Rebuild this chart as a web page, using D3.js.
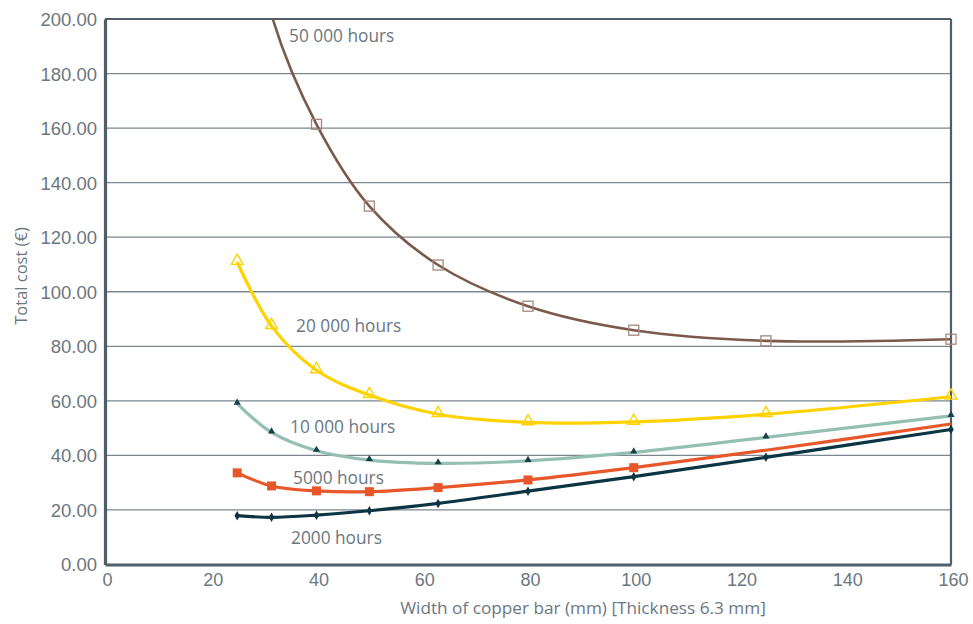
<!DOCTYPE html>
<html>
<head>
<meta charset="utf-8">
<script src="https://cdn.jsdelivr.net/npm/d3@7"></script>
<style>
  html, body { margin: 0; padding: 0; background: #fff; }
  svg { display: block; font-family: "Open Sans", "Noto Sans", sans-serif; }
</style>
</head>
<body>
<svg id="chart" width="973" height="624"></svg>
<script>
// ---- data ----
const widths = [25, 31.5, 40, 50, 63, 80, 100, 125, 160];
const hours50000 = [269, 201.5, 161.4, 131.4, 109.8, 94.7, 85.9, 82.0, 82.6];
const hours20000 = [110.9, 87.4, 71.2, 62.1, 55.1, 52.1, 52.3, 55.1, 61.5];
const hours10000 = [59.0, 48.4, 41.7, 38.3, 37.1, 38.0, 41.1, 46.6, 54.5];
const hours5000  = [33.6, 28.8, 27.0, 26.7, 28.2, 31.0, 35.5, 41.9, 51.5];
const hours2000  = [17.9, 17.3, 18.1, 19.7, 22.4, 26.9, 32.2, 39.3, 49.5];
const seriesNames = ["50 000 hours", "20 000 hours", "10 000 hours", "5000 hours", "2000 hours"];
const xTicks = [0, 20, 40, 60, 80, 100, 120, 140, 160];
const yTicks = [0, 20, 40, 60, 80, 100, 120, 140, 160, 180, 200];
const xTitle = "Width of copper bar (mm) [Thickness 6.3 mm]";
const yTitle = "Total cost (€)";

// ---- layout ----
const L = 105, R = 951, T = 19, B = 564.5;
const svg = d3.select("#chart");
const x = d3.scaleLinear().domain([0, 160]).range([L, R]);
const y = d3.scaleLinear().domain([0, 200]).range([B, T]);
const textColor = "#6b777f";

svg.append("defs").append("clipPath").attr("id", "plotclip")
  .append("rect").attr("x", L - 10).attr("y", T).attr("width", R - L + 20).attr("height", B - T + 10);

// gridlines
svg.append("g").selectAll("line").data(yTicks.filter(v => v > 0 && v < 200)).join("line")
  .attr("x1", L).attr("x2", R).attr("y1", d => y(d)).attr("y2", d => y(d))
  .attr("stroke", "#7a878f").attr("stroke-width", 1.3);

// frame
svg.append("line").attr("x1", L).attr("x2", R).attr("y1", T).attr("y2", T)
  .attr("stroke", "#4f5e68").attr("stroke-width", 2.2);
svg.append("line").attr("x1", R).attr("x2", R).attr("y1", T).attr("y2", B)
  .attr("stroke", "#4f5e68").attr("stroke-width", 2.2);

// axes
const yAxis = d3.axisLeft(y).tickValues(yTicks).tickFormat(d3.format(".2f")).tickSize(0).tickPadding(8);
const gy = svg.append("g").attr("transform", `translate(${L},0)`).call(yAxis);
gy.select(".domain").attr("stroke", "#4f5e68").attr("stroke-width", 3.2);
gy.selectAll("text").attr("fill", textColor).attr("font-size", 18.5).attr("dy", "0.35em");

const xAxis = d3.axisBottom(x).tickValues(xTicks).tickFormat(d3.format("d")).tickSize(0).tickPadding(9);
const gx = svg.append("g").attr("transform", `translate(0,${B})`).call(xAxis);
gx.select(".domain").attr("stroke", "#4f5e68").attr("stroke-width", 3.2);
gx.selectAll("text").attr("fill", textColor).attr("font-size", 18).attr("dx", 2);

svg.append("text").attr("x", 583).attr("y", 614).attr("text-anchor", "middle")
  .attr("fill", textColor).attr("font-size", 17.2).text(xTitle);
svg.append("text").attr("transform", `translate(27,${276}) rotate(-90)`).attr("text-anchor", "middle")
  .attr("fill", textColor).attr("font-size", 16.5).text(yTitle);

// series
const line = d3.line().x(d => x(d[0])).y(d => y(d[1])).curve(d3.curveCatmullRom.alpha(0.5));
const plot = svg.append("g").attr("clip-path", "url(#plotclip)");
const pts = vals => widths.map((w, i) => [w, vals[i]]);

const defs = [
  { vals: hours50000, color: "#7b5a4b", width: 2.6 },
  { vals: hours20000, color: "#ffd200", width: 3.2 },
  { vals: hours10000, color: "#94bfb2", width: 3.2 },
  { vals: hours5000,  color: "#e8572a", width: 3.2 },
  { vals: hours2000,  color: "#0c3543", width: 3.2 }
];
defs.forEach(s => {
  plot.append("path").attr("d", line(pts(s.vals))).attr("fill", "none")
    .attr("stroke", s.color).attr("stroke-width", s.width);
});

// markers
const inView = d => d[1] <= 200;
// 50 000: open squares
plot.append("g").selectAll("rect").data(pts(hours50000).filter(inView)).join("rect")
  .attr("x", d => x(d[0]) - 5).attr("y", d => y(d[1]) - 5).attr("width", 10).attr("height", 10)
  .attr("fill", "none").attr("stroke", "#a5877d").attr("stroke-width", 1.3);
// 20 000: open triangles
const tri = d3.symbol().type(d3.symbolTriangle);
plot.append("g").selectAll("path").data(pts(hours20000)).join("path")
  .attr("transform", d => `translate(${x(d[0])},${y(d[1]) - 1})`).attr("d", tri.size(60)())
  .attr("fill", "none").attr("stroke", "#ffd200").attr("stroke-width", 1.4);
// 10 000: small filled triangles
plot.append("g").selectAll("path").data(pts(hours10000)).join("path")
  .attr("transform", d => `translate(${x(d[0])},${y(d[1]) - 1})`).attr("d", tri.size(22)())
  .attr("fill", "#17404d");
// 5000: filled squares (not shown at the last two widths)
plot.append("g").selectAll("rect").data(pts(hours5000).slice(0, 7)).join("rect")
  .attr("x", d => x(d[0]) - 4.5).attr("y", d => y(d[1]) - 4.5).attr("width", 9).attr("height", 9)
  .attr("fill", "#e8572a");
// 2000: small diamonds
plot.append("g").selectAll("path").data(pts(hours2000)).join("path")
  .attr("transform", d => `translate(${x(d[0])},${y(d[1])})`)
  .attr("d", d3.symbol().type(d3.symbolDiamond).size(26)())
  .attr("fill", "#0c3543");

// series labels
const labelPos = [[289, 42], [296, 332], [290, 433], [293, 484], [291, 544]];
svg.append("g").selectAll("text").data(seriesNames).join("text")
  .attr("x", (d, i) => labelPos[i][0]).attr("y", (d, i) => labelPos[i][1])
  .attr("fill", textColor).attr("font-size", 17.3).text(d => d);
</script>
</body>
</html>
